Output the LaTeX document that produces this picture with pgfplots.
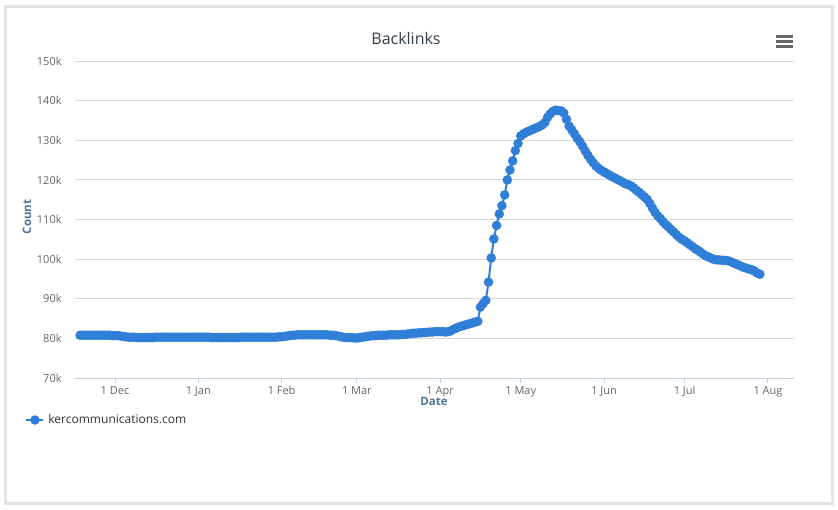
\documentclass[border=0pt]{standalone}
\usepackage{fontspec}
\setmainfont{Open Sans}
\usepackage{pgfplots}
\pgfplotsset{compat=1.18}
\definecolor{hcblue}{HTML}{2F7ED8}
\definecolor{titlec}{HTML}{333F4D}
\definecolor{axtitle}{HTML}{4D759E}
\definecolor{ticklab}{HTML}{666666}
\definecolor{gridc}{HTML}{D8D8D8}
\definecolor{axisc}{HTML}{C0D0E0}
\definecolor{framec}{HTML}{E4E4E4}
\definecolor{menuc}{HTML}{666666}
\definecolor{legc}{HTML}{333333}
\begin{document}
\begin{tikzpicture}
\fill[white] (0,0) rectangle (419pt,254.5pt);
\draw[framec, line width=1.5pt] (2.5pt,3pt) rectangle (416pt,251pt);
\node[text=titlec, font=\fontsize{8}{9.6}\selectfont] at (203pt,235pt) {Backlinks};
\foreach \yy in {236.25,233.75,231.25} \draw[menuc, line width=1.2pt] (388pt,\yy pt) -- (396.5pt,\yy pt);
\begin{axis}[at={(37.5pt,65.5pt)}, anchor=south west, scale only axis,
  width=359.5pt, height=158.5pt,
  xmin=-14.9, xmax=252.7, ymin=70, ymax=150,
  axis lines*=left, axis line style={-},
  x axis line style={draw=axisc, line width=0.5pt},
  y axis line style={draw=none},
  ymajorgrids, grid style={gridc, line width=0.5pt},
  xtick={0,31,62,90,121,151,182,212,243},
  xticklabels={1 Dec,1 Jan,1 Feb,1 Mar,1 Apr,1 May,1 Jun,1 Jul,1 Aug},
  ytick={70,80,90,100,110,120,130,140,150},
  yticklabels={70k,80k,90k,100k,110k,120k,130k,140k,150k},
  tick label style={font=\fontsize{5.5}{6.6}\selectfont, text=ticklab},
  /pgf/number format/assume math mode=true,
  xticklabel style={anchor=north, inner sep=0pt, yshift=-1.5pt},
  yticklabel style={anchor=east, inner sep=0pt, xshift=-4pt},
  tick align=outside, xtick style={draw=axisc, line width=0.5pt},
  ytick style={draw=none}, major tick length=2.5pt,
  xlabel={Date}, ylabel={Count},
  every axis x label/.style={at={(axis description cs:0.4993,-0.0726)}, anchor=center,
    font=\bfseries\fontsize{5.75}{6.9}\selectfont, text=axtitle},
  every axis y label/.style={at={(axis description cs:-0.0668,0.508)}, anchor=center, rotate=90,
    font=\bfseries\fontsize{5.75}{6.9}\selectfont, text=axtitle},
  legend style={at={(axis description cs:-0.0695,-0.1325)}, anchor=west, draw=none, fill=none,
    inner sep=0pt, font=\fontsize{6}{7.2}\selectfont, text=legc},
  legend cell align=left,
  legend image code/.code={\draw[mark repeat=2,mark phase=2] plot coordinates {(0pt,0pt) (4.25pt,0pt) (8.5pt,0pt)};},
]
\addplot[color=hcblue, line width=1pt, mark=*, mark size=1.85pt,
  mark options={solid, draw=none, fill=hcblue}] table {
d v
-13 80.8
-12 80.8
-11 80.8
-10 80.8
-9 80.8
-8 80.8
-7 80.8
-6 80.8
-5 80.8
-4 80.8
-3 80.8
-2 80.8
-1 80.7
0 80.7
1 80.7
2 80.6
3 80.5
4 80.4
5 80.3
6 80.3
7 80.3
8 80.2
9 80.2
10 80.2
11 80.2
12 80.2
13 80.2
14 80.2
15 80.3
16 80.3
17 80.3
18 80.3
19 80.3
20 80.3
21 80.3
22 80.3
23 80.3
24 80.3
25 80.3
26 80.3
27 80.3
28 80.3
29 80.3
30 80.3
31 80.3
32 80.3
33 80.3
34 80.3
35 80.3
36 80.2
37 80.2
38 80.2
39 80.2
40 80.2
41 80.2
42 80.2
43 80.2
44 80.2
45 80.2
46 80.2
47 80.3
48 80.3
49 80.3
50 80.3
51 80.3
52 80.3
53 80.3
54 80.3
55 80.3
56 80.3
57 80.3
58 80.3
59 80.3
60 80.3
61 80.4
62 80.4
63 80.5
64 80.6
65 80.7
66 80.8
67 80.8
68 80.9
69 80.9
70 80.9
71 80.9
72 80.9
73 80.9
74 80.9
75 80.9
76 80.9
77 80.9
78 80.9
79 80.9
80 80.8
81 80.8
82 80.7
83 80.6
84 80.4
85 80.3
86 80.2
87 80.2
88 80.2
89 80.1
90 80.1
91 80.2
92 80.3
93 80.4
94 80.5
95 80.6
96 80.7
97 80.7
98 80.8
99 80.8
100 80.8
101 80.8
102 80.9
103 80.9
104 80.9
105 80.9
106 80.9
107 81.0
108 81.0
109 81.1
110 81.2
111 81.3
112 81.3
113 81.4
114 81.4
115 81.5
116 81.5
117 81.6
118 81.6
119 81.7
120 81.7
121 81.7
122 81.7
123 81.6
124 81.7
125 81.9
126 82.3
127 82.6
128 82.9
129 83.1
130 83.3
131 83.5
132 83.7
133 83.9
134 84.1
135 84.3
136 87.9
137 88.8
138 89.6
139 94.2
140 100.3
141 105.1
142 108.5
143 111.4
144 113.5
145 116.2
146 120.0
147 122.5
148 124.8
149 127.4
150 129.2
151 131.1
152 131.6
153 132.0
154 132.3
155 132.6
156 132.9
157 133.2
158 133.5
159 133.9
160 134.5
161 135.8
162 136.7
163 137.3
164 137.6
165 137.5
166 137.4
167 136.9
168 135.3
169 133.6
170 132.6
171 131.6
172 130.5
173 129.6
174 128.5
175 127.3
176 126.2
177 125.2
178 124.3
179 123.5
180 122.9
181 122.4
182 122.0
183 121.6
184 121.2
185 120.8
186 120.5
187 120.1
188 119.8
189 119.4
190 119.0
191 118.8
192 118.5
193 118.0
194 117.4
195 116.9
196 116.3
197 115.7
198 115.1
199 114.1
200 112.9
201 111.8
202 110.9
203 110.2
204 109.4
205 108.7
206 108.1
207 107.4
208 106.8
209 106.1
210 105.5
211 105.0
212 104.6
213 104.1
214 103.6
215 103.1
216 102.6
217 102.2
218 101.7
219 101.2
220 100.8
221 100.5
222 100.2
223 99.9
224 99.8
225 99.8
226 99.7
227 99.7
228 99.6
229 99.4
230 99.1
231 98.8
232 98.5
233 98.2
234 97.9
235 97.7
236 97.5
237 97.3
238 97.0
239 96.5
240 96.2
};
\addlegendentry{kercommunications.com}
\end{axis}
\end{tikzpicture}
\end{document}
